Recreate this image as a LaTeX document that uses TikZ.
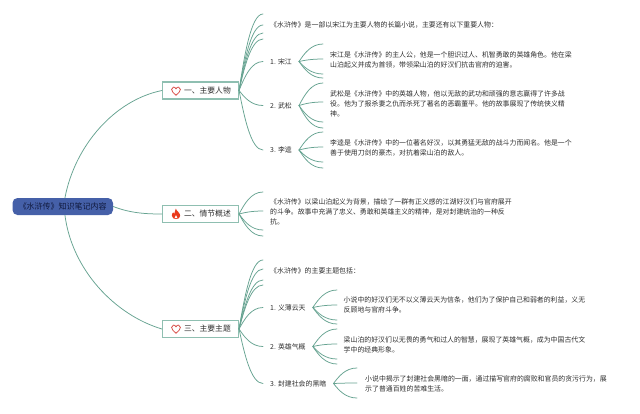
\documentclass[tikz,border=0pt]{standalone}
\usepackage{fontspec}
\setmainfont{Noto Sans CJK SC}
\usetikzlibrary{calc}
\definecolor{linec}{HTML}{66A391}
\definecolor{boxc}{HTML}{8FBFB1}
\definecolor{rootc}{HTML}{4560A8}
\definecolor{inkc}{HTML}{2E2E2E}
\definecolor{rootink}{HTML}{10193C}
\definecolor{heartc}{HTML}{D9504A}
\definecolor{firec}{HTML}{EA3A1C}
\tikzset{
  conn/.style={draw=linec,line width=0.75pt,line cap=round},
  rootbox/.style={fill=rootc,rounded corners=5pt,minimum width=100.5pt,minimum height=17pt,inner sep=0pt,font=\fontsize{8}{10}\selectfont,text=rootink},
  topicbox/.style={draw=boxc,fill=white,line width=1.1pt,minimum width=76pt,minimum height=17pt,inner sep=0pt,font=\fontsize{7.8}{10}\selectfont,text=inkc},
  sublabel/.style={anchor=west,inner xsep=7pt,inner ysep=1pt,font=\fontsize{6.9}{10}\selectfont,text=inkc},
  leaf/.style={anchor=west,align=left,inner xsep=7pt,inner ysep=0pt,font=\fontsize{6.9}{10}\selectfont,text=inkc},
  heartmark/.style={draw=heartc,line width=0.8pt,fill=white},
  firemark/.style={fill=firec,draw=none}
}
\newcommand{\curveto}[2]{%
  \draw[conn] let \p1=(#1),\p2=(#2) in (\p1) .. controls ({\x1+.22*(\x2-\x1)},{\y1+.45*(\y2-\y1)}) and ({\x1+.5*(\x2-\x1)},\y2) .. (\p2);}
\newcommand{\fanout}[3]{%
  \foreach \yy in {#3} {\coordinate (fanend) at (#2,\yy); \curveto{#1}{fanend}}}
\newcommand{\topiclabel}[1]{\makebox[76pt][l]{\hspace{21.5pt}#1}}
\newcommand{\heartat}[2]{\draw[heartmark,shift={(#1,#2)}] (0,4.2) .. controls (-2.6,1.8) and (-4.4,0.4) .. (-4.4,-1.6) .. controls (-4.4,-4.2) and (-1.2,-4.8) .. (0,-2.2) .. controls (1.2,-4.8) and (4.4,-4.2) .. (4.4,-1.6) .. controls (4.4,0.4) and (2.6,1.8) .. (0,4.2) -- cycle;}
\begin{document}
\begin{tikzpicture}[x=1pt,y=-1pt]
\useasboundingbox (0,0) rectangle (640,413);
\fill[white] (0,0) rectangle (640,413);

% main nodes
\node[rootbox] (root) at (62.75,206.5) {《水浒传》知识笔记内容};
\node[topicbox] (t1) at (200.5,90.5) {\topiclabel{一、主要人物}};
\node[topicbox] (t2) at (200.5,214) {\topiclabel{二、情节概述}};
\node[topicbox] (t3) at (200.5,329) {\topiclabel{三、主要主题}};

% root connectors
\draw[conn] ([xshift=2.2pt]root.north) .. controls (75,145) and (115,100) .. (t1.west);
\draw[conn] (root.east) .. controls (130,213) and (145,214) .. (t2.west);
\draw[conn] ([xshift=2.2pt]root.south) .. controls (72,270) and (115,315) .. (t3.west);

% topic 1
\node[leaf] (i1) at (263,25) {《水浒传》是一部以宋江为主要人物的长篇小说，主要还有以下重要人物：};
\node[sublabel] (s1) at (263,61.5) {1. 宋江};
\node[sublabel] (s2) at (263,105.5) {2. 武松};
\node[sublabel] (s3) at (263,150) {3. 李逵};
\node[leaf] (l1) at (323,60) {宋江是《水浒传》的主人公，他是一个胆识过人、机智勇敢的英雄角色。他在梁\\山泊起义并成为首领，带领梁山泊的好汉们抗击官府的迫害。};
\node[leaf] (l2) at (323,104) {武松是《水浒传》中的英雄人物，他以无敌的武功和顽强的意志赢得了许多战\\役。他为了报杀妻之仇而杀死了著名的恶霸董平。他的故事展现了传统侠义精\\神。};
\node[leaf] (l3) at (323,148) {李逵是《水浒传》中的一位著名好汉，以其勇猛无敌的战斗力而闻名。他是一个\\善于使用刀剑的豪杰，对抗着梁山泊的敌人。};
\fanout{t1.east}{263}{14,33,39}
\curveto{t1.east}{i1.west}
\curveto{t1.east}{s1.west}
\curveto{t1.east}{s2.west}
\curveto{t1.east}{s3.west}
\fanout{s1.east}{323}{44,59,74,78}
\fanout{s2.east}{323}{83,102,122,128}
\fanout{s3.east}{323}{132,147,162,168}

% topic 2
\node[leaf] (l4) at (263,212) {《水浒传》以梁山泊起义为背景，描绘了一群有正义感的江湖好汉们与官府展开\\的斗争。故事中充满了忠义、勇敢和英雄主义的精神，是对封建统治的一种反\\抗。};
\fanout{t2.east}{263}{192,211,230,236}

% topic 3
\node[leaf] (i3) at (263,271) {《水浒传》的主要主题包括：};
\node[sublabel] (s4) at (263,307.5) {1. 义薄云天};
\node[sublabel] (s5) at (263,346.5) {2. 英雄气概};
\node[sublabel] (s6) at (263,383.5) {3. 封建社会的黑暗};
\node[leaf] (l5) at (336.5,305) {小说中的好汉们无不以义薄云天为信条，他们为了保护自己和弱者的利益，义无\\反顾地与官府斗争。};
\node[leaf] (l6) at (336.5,345) {梁山泊的好汉们以无畏的勇气和过人的智慧，展现了英雄气概，成为中国古代文\\学中的经典形象。};
\node[leaf] (l7) at (358,384) {小说中揭示了封建社会黑暗的一面，通过描写官府的腐败和官员的贪污行为，展\\示了普通百姓的苦难生活。};
\fanout{t3.east}{263}{260,269,280,285}
\curveto{t3.east}{s4.west}
\curveto{t3.east}{s5.west}
\curveto{t3.east}{s6.west}
\fanout{s4.east}{337}{290,305,320,324}
\fanout{s5.east}{337}{329,344,359,364}
\fanout{s6.east}{357}{368,383,398}

% icons
\heartat{176}{91}
\heartat{176}{329}
\fill[firemark,shift={(176,214)}] (-0.2,-5.4) .. controls (0.4,-3) and (4.4,-1) .. (4.2,1.8) .. controls (4.1,4.2) and (2,5) .. (0,5) .. controls (-2,5) and (-4.2,4.2) .. (-4.2,1.6) .. controls (-4.2,0) and (-3.4,-1) .. (-2.8,-1.6) .. controls (-2.6,-0.6) and (-2.2,0) .. (-1.6,0) .. controls (-1,-1.6) and (-1.4,-3.6) .. (-0.2,-5.4) -- cycle;
\fill[white,shift={(176,214)}] (0,1) .. controls (0.6,2) and (1.6,2.6) .. (1.3,3.6) .. controls (1,4.5) and (-1,4.5) .. (-1.3,3.6) .. controls (-1.6,2.6) and (-0.4,2) .. (0,1) -- cycle;
\end{tikzpicture}
\end{document}
